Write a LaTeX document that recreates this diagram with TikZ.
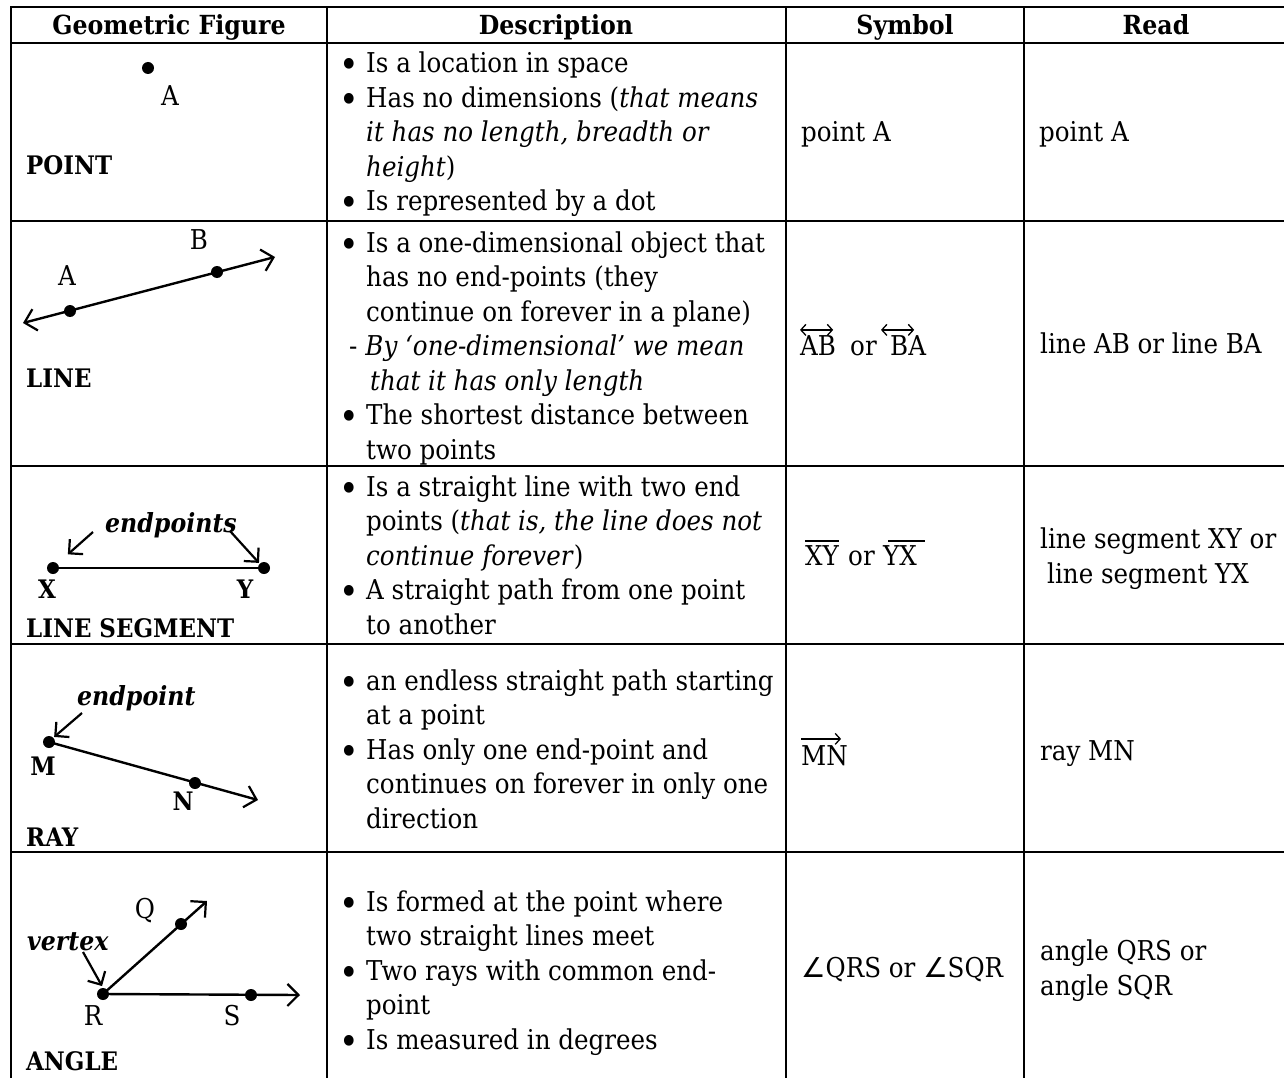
\documentclass[tikz,border=0pt]{standalone}
\usepackage{fontspec}
\setmainfont{DejaVu Serif Condensed}
\newfontfamily\symfont{DejaVu Sans}
\usetikzlibrary{arrows.meta}
\newcommand\mainsz{\fontsize{27.3}{34.5}\selectfont}
\newcommand\boldsz{\fontsize{25.5}{34.5}\selectfont}
\newcommand\hdrsz{\fontsize{26.3}{34.5}\selectfont}
\newcommand\bul{\makebox[23pt][l]{\hspace*{-4pt}\raisebox{-5pt}{\scalebox{1.35}{\textbullet}}}}
\tikzset{
  gridline/.style={line width=2.6pt, line cap=rect},
  txt/.style={anchor=base west, inner sep=0pt, font=\mainsz},
  ctxt/.style={anchor=base, inner sep=0pt, font=\mainsz},
  btxt/.style={anchor=base west, inner sep=0pt, font=\boldsz\bfseries},
  bctxt/.style={anchor=base, inner sep=0pt, font=\boldsz\bfseries},
  hdrtxt/.style={anchor=base, inner sep=0pt, font=\hdrsz\bfseries},
  bitxt/.style={anchor=base west, inner sep=0pt, font=\hdrsz\bfseries\itshape},
  geo/.style={line width=2.4pt},
  bigtip/.style={-{Straight Barb[length=11pt,width=22pt,line width=2.2pt]}},
  bigtips/.style={{Straight Barb[length=11pt,width=22pt,line width=2.2pt]}-{Straight Barb[length=11pt,width=22pt,line width=2.2pt]}},
  ptrtip/.style={line width=2.2pt,-{Straight Barb[length=10pt,width=20pt,line width=2.2pt]}},
  gdot/.style={circle, fill=black, inner sep=0pt, minimum size=12pt},
  overarr/.style={line width=1.3pt},
  smallhead/.tip={Straight Barb[length=5pt,width=11pt,line width=1.3pt]},
}
\begin{document}
\begin{tikzpicture}[x=1pt,y=-1pt]
\useasboundingbox (0,0) rectangle (1284,1078);
% grid
\draw[gridline] (11,7) -- (1290,7);
\foreach \yy in {43,221,466,644,852} \draw[gridline] (11,\yy) -- (1290,\yy);
\foreach \xx in {11,327,786,1024} \draw[gridline] (\xx,7) -- (\xx,1085);
% header
\node[hdrtxt] (h1) at (169,35) {Geometric Figure};
\node[hdrtxt] (h2) at (556,35) {Description};
\node[hdrtxt] (h3) at (905,35) {Symbol};
\node[hdrtxt] (h4) at (1156,35) {Read};

% ---------- Row 1: POINT
\node[gdot] (pA) at (148,68) {};
\node[ctxt] (lA1) at (170,106) {A};
\node[btxt] (tPoint) at (26,175) {POINT};
\node[txt] (d1a) at (343,73) {\bul Is a location in space};
\node[txt] (d1b) at (343,107.5) {\bul Has no dimensions (\textit{that means}};
\node[txt] (d1c) at (366,142) {\textit{it has no length, breadth or}};
\node[txt] (d1d) at (366,176.5) {\textit{height})};
\node[txt] (d1e) at (343,211) {\bul Is represented by a dot};
\node[txt] (s1) at (801,142) {point A};
\node[txt] (r1) at (1039,142) {point A};

% ---------- Row 2: LINE
\coordinate (L1) at (23,323);
\coordinate (L2) at (275,257);
\draw[geo,bigtips] (L1) -- (L2);
\node[gdot] (pA2) at (70,311) {};
\node[gdot] (pB2) at (217,272) {};
\node[ctxt] (lB2) at (199,249) {B};
\node[ctxt] (lA2) at (67,285) {A};
\node[btxt] (tLine) at (26,387) {LINE};
\node[txt] (d2a) at (343,252) {\bul Is a one-dimensional object that};
\node[txt] (d2b) at (366,286.5) {has no end-points (they};
\node[txt] (d2c) at (366,321) {continue on forever in a plane)};
\node[txt] (d2d) at (349,355.5) {-\hspace{8pt}\textit{By ‘one-dimensional’ we mean}};
\node[txt] (d2e) at (370,390) {\textit{that it has only length}};
\node[txt] (d2f) at (343,424.5) {\bul The shortest distance between};
\node[txt] (d2g) at (366,459) {two points};
\node[txt] (sAB) at (800,355) {AB};
\node[txt] (sor2) at (850,355) {or};
\node[txt] (sBA) at (890,355) {BA};
\draw[overarr,{smallhead}-{smallhead}] ([yshift=5pt]sAB.north west) -- ([yshift=5pt,xshift=-3pt]sAB.north east);
\draw[overarr,{smallhead}-{smallhead}] ([yshift=5pt,xshift=-9pt]sBA.north west) -- ([yshift=5pt,xshift=-12pt]sBA.north east);
\node[txt] (r2) at (1040,353) {line AB or line BA};

% ---------- Row 3: LINE SEGMENT
\node[gdot] (pX) at (53,568) {};
\node[gdot] (pY) at (264,568) {};
\draw[geo] (pX) -- (pY);
\node[bitxt] (tEnds) at (105,532) {endpoints};
\coordinate (e1) at (93,532);
\coordinate (e2) at (230,531);
\draw[ptrtip, shorten >=14pt] (e1) -- (pX.north east);
\draw[ptrtip, shorten >=1pt] (e2) -- (pY.north west);
\node[bctxt] (lX) at (47,598) {X};
\node[bctxt] (lY) at (245,598) {Y};
\node[btxt] (tSeg) at (26,637) {LINE SEGMENT};
\node[txt] (d3a) at (343,496) {\bul Is a straight line with two end};
\node[txt] (d3b) at (366,530.5) {points (\textit{that is, the line does not}};
\node[txt] (d3c) at (366,565) {\textit{continue forever})};
\node[txt] (d3d) at (343,599.5) {\bul A straight path from one point};
\node[txt] (d3e) at (366,634) {to another};
\node[txt] (sXY) at (805,565) {XY};
\node[txt] (sor3) at (848,565) {or};
\node[txt] (sYX) at (883,565) {YX};
\draw[overarr] ([yshift=4pt]sXY.north west) -- ([yshift=4pt]sXY.north east);
\draw[overarr] ([yshift=4pt,xshift=5pt]sYX.north west) -- ([yshift=4pt,xshift=8pt]sYX.north east);
\node[txt] (r3a) at (1040,548) {line segment XY or};
\node[txt] (r3b) at (1047,583) {line segment YX};

% ---------- Row 4: RAY
\node[gdot] (pM) at (49,742) {};
\node[gdot] (pN) at (195,783) {};
\coordinate (rayend) at (258,800);
\draw[geo,bigtip] (pM.center) -- (rayend);
\node[bitxt] (tEnd) at (77,705) {endpoint};
\coordinate (e3) at (82,713);
\draw[ptrtip, shorten >=1pt] (e3) -- (pM.north east);
\node[bctxt] (lM) at (43,775) {M};
\node[bctxt] (lN) at (183,810) {N};
\node[btxt] (tRay) at (26,846) {RAY};
\node[txt] (d4a) at (343,690) {\bul an endless straight path starting};
\node[txt] (d4b) at (366,724.5) {at a point};
\node[txt] (d4c) at (343,759) {\bul Has only one end-point and};
\node[txt] (d4d) at (366,793.5) {continues on forever in only one};
\node[txt] (d4e) at (366,828) {direction};
\node[txt] (sMN) at (801,765) {MN};
\draw[overarr,-{smallhead}] ([yshift=6pt]sMN.north west) -- ([yshift=6pt,xshift=-7pt]sMN.north east);
\node[txt] (r4) at (1040,760) {ray MN};

% ---------- Row 5: ANGLE
\node[gdot] (pR) at (103,994) {};
\node[gdot] (pQ) at (181,924) {};
\node[gdot] (pS) at (251,995) {};
\coordinate (qend) at (207,901);
\coordinate (send) at (300,995);
\draw[geo,bigtip] (pR.center) -- (qend);
\draw[geo,bigtip] (pR.center) -- (send);
\node[bitxt] (tVert) at (27,950) {vertex};
\coordinate (e4) at (83,952);
\draw[ptrtip, shorten >=2pt] (e4) -- (pR.north);
\node[ctxt] (lQ) at (145,918) {Q};
\node[ctxt] (lR) at (93,1025) {R};
\node[ctxt] (lS) at (232,1025) {S};
\node[btxt] (tAng) at (26,1070) {ANGLE};
\node[txt] (d5a) at (343,911) {\bul Is formed at the point where};
\node[txt] (d5b) at (366,945.5) {two straight lines meet};
\node[txt] (d5c) at (343,980) {\bul Two rays with common end-};
\node[txt] (d5d) at (366,1014.5) {point};
\node[txt] (d5e) at (343,1049) {\bul Is measured in degrees};
\node[txt] (s5) at (801,977) {{\symfont ∠}QRS or {\symfont ∠}SQR};
\node[txt] (r5a) at (1040,960) {angle QRS or};
\node[txt] (r5b) at (1040,995) {angle SQR};
\end{tikzpicture}
\end{document}
